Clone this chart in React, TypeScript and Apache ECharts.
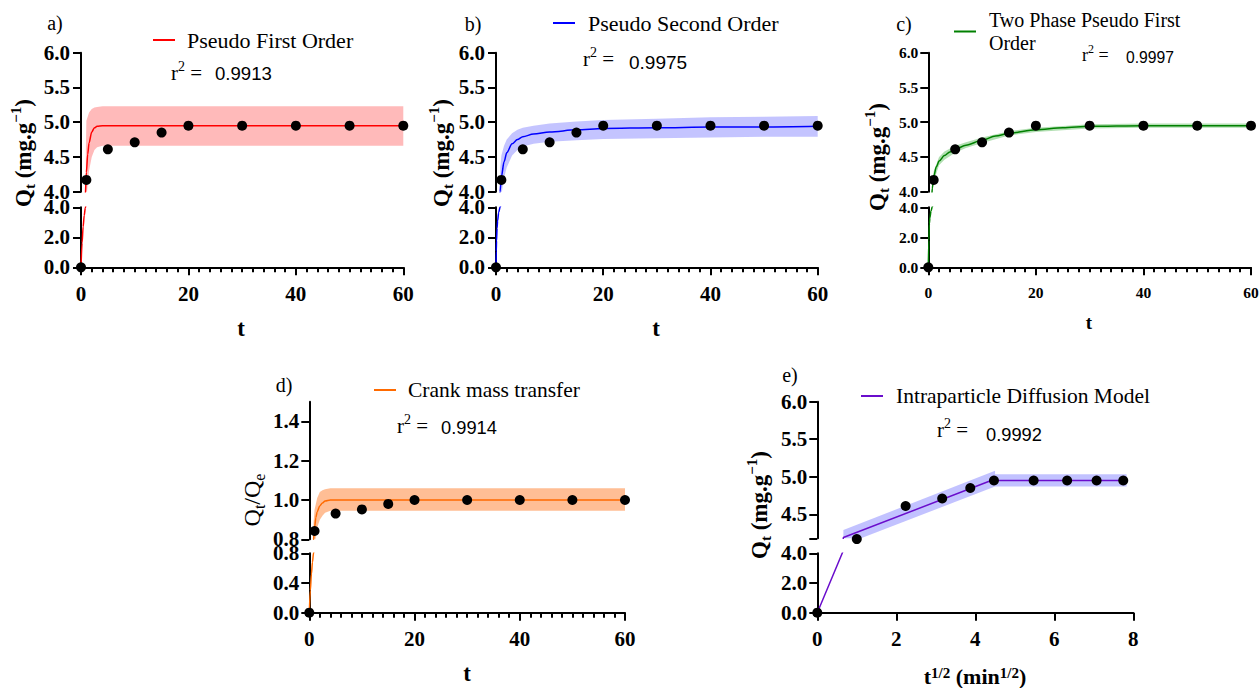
import React, { useEffect, useRef } from 'react';
import * as echarts from 'echarts';

const SERIF = "'Liberation Serif', 'Times New Roman', serif";
const SANS = "'Liberation Sans', Arial, sans-serif";

// ---------------- experimental data ----------------
const TIME_MIN = [0, 1, 5, 10, 15, 20, 30, 40, 50, 60];
const QT_EXP = [0, 4.17, 4.61, 4.71, 4.85, 4.95, 4.95, 4.95, 4.95, 4.95];
const QT_QE_EXP = [0, 0.842, 0.931, 0.952, 0.98, 1.0, 1.0, 1.0, 1.0, 1.0];
const SQRT_TIME = [0, 1, 2.236, 3.162, 3.873, 4.472, 5.477, 6.325, 7.071, 7.746];

// ---------------- a) pseudo first order ----------------
const PFO_T = [0, 0.2, 0.4, 0.6, 0.8, 1, 1.25, 1.5, 2, 2.5, 3, 4, 5, 10, 20, 30, 40, 50, 60];
const PFO_Q = [0, 1.63, 2.71, 3.46, 3.95, 4.28, 4.54, 4.7, 4.86, 4.92, 4.94, 4.95, 4.95, 4.95, 4.95, 4.95, 4.95, 4.95, 4.95];
const PFO_BAND_T = [0.9, 1, 1.5, 2, 2.5, 3, 4, 5, 60];
const PFO_UPPER = [4.6, 5.02, 5.14, 5.19, 5.21, 5.22, 5.23, 5.23, 5.23];
const PFO_LOWER = [3.6, 3.9, 4.3, 4.5, 4.6, 4.64, 4.66, 4.66, 4.66];

// ---------------- b) pseudo second order ----------------
const PSO_T = [0, 0.05, 0.1, 0.2, 0.3, 0.5, 0.75, 1, 1.5, 2, 3, 4, 5, 7, 10, 15, 20, 30, 40, 50, 60];
const PSO_Q = [0, 1.07, 1.76, 2.6, 3.1, 3.65, 4.0, 4.21, 4.43, 4.56, 4.69, 4.75, 4.79, 4.83, 4.86, 4.89, 4.91, 4.92, 4.93, 4.93, 4.94];
const PSO_BAND_T = [0.8, 1, 1.5, 2, 3, 4, 5, 7, 10, 15, 20, 30, 40, 50, 60];
const PSO_UPPER = [4.35, 4.52, 4.66, 4.75, 4.84, 4.89, 4.92, 4.95, 4.98, 5.01, 5.03, 5.05, 5.07, 5.08, 5.09];
const PSO_LOWER = [3.7, 3.95, 4.2, 4.35, 4.52, 4.6, 4.65, 4.69, 4.72, 4.74, 4.76, 4.77, 4.78, 4.79, 4.79];

// ---------------- c) two phase pseudo first order ----------------
const TPF_T = [0, 0.1, 0.2, 0.3, 0.5, 0.75, 1, 1.5, 2, 3, 4, 5, 7, 10, 12.5, 15, 20, 25, 30, 40, 50, 60];
const TPF_Q = [0, 1.8, 2.9, 3.3, 3.75, 4.05, 4.22, 4.36, 4.44, 4.52, 4.57, 4.61, 4.67, 4.74, 4.8, 4.84, 4.89, 4.92, 4.94, 4.95, 4.95, 4.95];
const TPF_BAND_T = [0.6, 1, 2, 3, 5, 7, 10, 15, 20, 30, 40, 60];
const TPF_UPPER = [4.02, 4.29, 4.5, 4.58, 4.66, 4.71, 4.78, 4.87, 4.92, 4.97, 4.98, 4.98];
const TPF_LOWER = [3.88, 4.15, 4.38, 4.46, 4.56, 4.63, 4.7, 4.81, 4.86, 4.91, 4.92, 4.92];

// ---------------- d) Crank mass transfer ----------------
const CRANK_T = [0, 0.2, 0.4, 0.6, 0.8, 1, 1.25, 1.5, 2, 2.5, 3, 4, 5, 60];
const CRANK_Q = [0, 0.3, 0.52, 0.68, 0.8, 0.86, 0.91, 0.94, 0.97, 0.985, 0.995, 1.0, 1.0, 1.0];
const CRANK_BAND_T = [0.8, 1, 1.5, 2, 2.5, 3, 4, 5, 60];
const CRANK_UPPER = [0.88, 0.95, 1.01, 1.04, 1.05, 1.055, 1.06, 1.06, 1.06];
const CRANK_LOWER = [0.72, 0.77, 0.86, 0.9, 0.92, 0.935, 0.945, 0.945, 0.945];

// ---------------- e) intraparticle diffusion ----------------
const IPD1_X = [0, 0.66, 4.5];
const IPD1_Q = [0, 4.19, 4.97];
const IPD2_X = [4.5, 7.75];
const IPD2_Q = [4.95, 4.95];
const IPD1_BAND_X = [0.66, 4.5];
const IPD1_UPPER = [4.29, 5.08];
const IPD1_LOWER = [4.09, 4.87];
const IPD2_BAND_X = [4.5, 7.83];
const IPD2_UPPER = [5.035, 5.035];
const IPD2_LOWER = [4.87, 4.87];

// ---------------- texts ----------------
const MODEL_NAMES = ['Pseudo First Order', 'Pseudo Second Order', 'Two Phase Pseudo First Order', 'Crank mass transfer', 'Intraparticle Diffusion Model'];
const R2_VALUES = ['0.9913', '0.9975', '0.9997', '0.9914', '0.9992'];
const PANEL_TAGS = ['a)', 'b)', 'c)', 'd)', 'e)'];
const TOP_TICKS_Q = [4, 4.5, 5, 5.5, 6];
const BOT_TICKS_Q = [0, 2, 4];
const TOP_TICKS_R = [0.8, 1.0, 1.2, 1.4];
const BOT_TICKS_R = [0, 0.4, 0.8];
const TOP_TICKS_E = [4.18, 4.5, 5, 5.5, 6];
const TOP_LABELS_E = [4.5, 5, 5.5, 6];

const AX = { color: '#000', width: 2 };

const PANELS: any[] = [
  {
    left: 81, right: 403.3, topY: [52.7, 191.7], botY: [207.3, 267.3],
    xMax: 60, xInterval: 20, minor: true,
    topMin: 4, topMax: 6, topTicks: TOP_TICKS_Q, topLabels: TOP_TICKS_Q, botMax: 4, botTicks: BOT_TICKS_Q,
    font: 21, xMargin: 16, yMargin: 11, yLH: 14,
    color: '#ff0000', band: 'rgba(255,0,0,0.27)',
    curves: [{ x: PFO_T, y: PFO_Q }], bands: [{ x: PFO_BAND_T, lo: PFO_LOWER, hi: PFO_UPPER }],
    px: TIME_MIN, py: QT_EXP,
    leg: { left: 153, top: 28, size: 22, pad: 7, lh: 24 },
  },
  {
    left: 496, right: 817.7, topY: [52.7, 191.7], botY: [207.3, 267.3],
    xMax: 60, xInterval: 20, minor: true,
    topMin: 4, topMax: 6, topTicks: TOP_TICKS_Q, topLabels: TOP_TICKS_Q, botMax: 4, botTicks: BOT_TICKS_Q,
    font: 21, xMargin: 16, yMargin: 11, yLH: 14,
    color: '#0000ff', band: 'rgba(60,60,255,0.3)',
    curves: [{ x: PSO_T, y: PSO_Q }], bands: [{ x: PSO_BAND_T, lo: PSO_LOWER, hi: PSO_UPPER }],
    px: TIME_MIN, py: QT_EXP,
    leg: { left: 553, top: 11, size: 22, pad: 8, lh: 24 },
  },
  {
    left: 928.3, right: 1251, topY: [52.7, 191.7], botY: [207.3, 267.3],
    xMax: 60, xInterval: 20, minor: true,
    topMin: 4, topMax: 6, topTicks: TOP_TICKS_Q, topLabels: TOP_TICKS_Q, botMax: 4, botTicks: BOT_TICKS_Q,
    font: 15.5, xMargin: 17, yMargin: 10, yLH: 12,
    color: '#008000', band: 'rgba(0,150,0,0.3)',
    curves: [{ x: TPF_T, y: TPF_Q }], bands: [{ x: TPF_BAND_T, lo: TPF_LOWER, hi: TPF_UPPER }],
    px: TIME_MIN, py: QT_EXP,
    leg: { left: 954, top: 8.5, size: 20, pad: 8, lh: 23 },
  },
  {
    left: 309.3, right: 625, topY: [401.7, 539.3], botY: [553.3, 612.7],
    xMax: 60, xInterval: 20, minor: true,
    topMin: 0.8, topMax: 1.5, topTicks: TOP_TICKS_R, topLabels: TOP_TICKS_R, botMax: 0.8, botTicks: BOT_TICKS_R,
    font: 21, xMargin: 16, yMargin: 10, yLH: 13,
    color: '#ff6a00', band: 'rgba(255,110,20,0.45)',
    curves: [{ x: CRANK_T, y: CRANK_Q }], bands: [{ x: CRANK_BAND_T, lo: CRANK_LOWER, hi: CRANK_UPPER }],
    px: TIME_MIN, py: QT_QE_EXP,
    leg: { left: 374, top: 378, size: 21.5, pad: 7, lh: 24 },
  },
  {
    left: 817.3, right: 1133.3, topY: [401.7, 538.3], botY: [553.3, 612.7],
    xMax: 8, xInterval: 2, minor: false,
    topMin: 4.18, topMax: 6, topTicks: TOP_TICKS_E, topLabels: TOP_LABELS_E, botMax: 4, botTicks: BOT_TICKS_Q,
    font: 21, xMargin: 16, yMargin: 10, yLH: 14,
    color: '#6a0dcc', band: 'rgba(80,80,255,0.35)',
    curves: [{ x: IPD1_X, y: IPD1_Q }, { x: IPD2_X, y: IPD2_Q }],
    bands: [{ x: IPD1_BAND_X, lo: IPD1_LOWER, hi: IPD1_UPPER }, { x: IPD2_BAND_X, lo: IPD2_LOWER, hi: IPD2_UPPER }],
    px: SQRT_TIME, py: QT_EXP,
    leg: { left: 861, top: 384, size: 21.5, pad: 8, lh: 24 },
  },
];

const fmt1 = (v: number) => v.toFixed(1);

function titleRich(size: number, weight: string, lh: number) {
  const s = Math.round(size * 0.66);
  return {
    m: { fontFamily: SERIF, fontSize: size, fontWeight: weight, fill: '#000', lineHeight: lh },
    sub: { fontFamily: SERIF, fontSize: s, fontWeight: weight, fill: '#000', lineHeight: s + 1, verticalAlign: 'bottom' },
    sup: { fontFamily: SERIF, fontSize: s, fontWeight: weight, fill: '#000', lineHeight: s + 1, verticalAlign: 'top' },
  };
}

function richText(x: number, y: number, text: string, size: number, weight: string, align: string, rotate = 0, lh = size + 6) {
  return {
    type: 'text', x, y, rotation: rotate, silent: true,
    style: {
      text, rich: titleRich(size, weight, lh), align, verticalAlign: 'middle', textAlign: align, textVerticalAlign: 'middle',
      fontFamily: SERIF, fontSize: size, fontWeight: weight, fill: '#000',
    },
  };
}

function plainText(x: number, y: number, text: string, size: number, family: string, weight = 'normal', align = 'left') {
  return {
    type: 'text', x, y, silent: true,
    style: { text, fontFamily: family, fontSize: size, fontWeight: weight, fill: '#000', align, verticalAlign: 'middle', textAlign: align, textVerticalAlign: 'middle' },
  };
}

function bandSeries(xi: number, yi: number, b: any, color: string) {
  return {
    type: 'custom', xAxisIndex: xi, yAxisIndex: yi, clip: true, silent: true, z: 1,
    data: b.x.map((v: number, i: number) => [v, b.lo[i], b.hi[i]]),
    encode: { x: 0, y: [1, 2] },
    renderItem: (params: any, api: any) => {
      if (params.dataIndex !== 0) return null;
      const pts: number[][] = [];
      for (let i = 0; i < b.x.length; i++) pts.push(api.coord([b.x[i], b.hi[i]]));
      for (let i = b.x.length - 1; i >= 0; i--) pts.push(api.coord([b.x[i], b.lo[i]]));
      return { type: 'polygon', shape: { points: pts }, style: { fill: color } };
    },
  };
}

function buildOption() {
  const grid: any[] = [], xAxis: any[] = [], yAxis: any[] = [], series: any[] = [], legend: any[] = [];
  PANELS.forEach((p, i) => {
    const gt = 2 * i, gb = 2 * i + 1;
    const width = p.right - p.left;
    grid.push({ left: p.left, top: p.topY[0], width, height: p.topY[1] - p.topY[0], containLabel: false, outerBoundsMode: 'none' });
    grid.push({ left: p.left, top: p.botY[0], width, height: p.botY[1] - p.botY[0], containLabel: false, outerBoundsMode: 'none' });
    const lab = { fontFamily: SERIF, fontWeight: 'bold', fontSize: p.font, color: '#000' };
    xAxis.push({ gridIndex: gt, type: 'value', min: 0, max: p.xMax, show: false });
    xAxis.push({
      gridIndex: gb, type: 'value', min: 0, max: p.xMax, interval: p.xInterval,
      axisLine: { show: true, onZero: false, lineStyle: AX },
      axisTick: { show: true, length: 8, lineStyle: AX },
      minorTick: { show: p.minor, splitNumber: 10, length: 5, lineStyle: AX },
      axisLabel: { ...lab, margin: p.xMargin },
      splitLine: { show: false }, minorSplitLine: { show: false },
    });
    yAxis.push({
      gridIndex: gt, type: 'value', min: p.topMin, max: p.topMax,
      axisLine: { show: true, onZero: false, lineStyle: AX },
      axisTick: { show: true, length: 8, lineStyle: AX, customValues: p.topTicks },
      axisLabel: { ...lab, lineHeight: p.yLH, margin: p.yMargin, customValues: p.topLabels, formatter: fmt1 },
      splitLine: { show: false },
    });
    yAxis.push({
      gridIndex: gb, type: 'value', min: 0, max: p.botMax,
      axisLine: { show: true, onZero: false, lineStyle: AX },
      axisTick: { show: true, length: 8, lineStyle: AX, customValues: p.botTicks },
      axisLabel: { ...lab, lineHeight: p.yLH, margin: p.yMargin, customValues: p.botTicks, formatter: fmt1 },
      splitLine: { show: false },
    });
    p.bands.forEach((b: any) => series.push(bandSeries(gt, gt, b, p.band)));
    [gt, gb].forEach((g) => {
      p.curves.forEach((c: any, ci: number) => {
        series.push({
          type: 'line', xAxisIndex: g, yAxisIndex: g, z: 3,
          name: g === gt && ci === 0 ? MODEL_NAMES[i] : undefined,
          color: p.color,
          data: c.x.map((v: number, k: number) => [v, c.y[k]]),
          showSymbol: false, symbol: 'none', clip: true,
          smooth: c.x.length > 3 ? 0.3 : false, smoothMonotone: 'x',
          lineStyle: { color: p.color, width: 1.5 }, itemStyle: { color: p.color },
        });
      });
    });
    const topPts: number[][] = [], botPts: number[][] = [];
    p.px.forEach((v: number, k: number) => {
      const q = p.py[k];
      if (q >= p.topMin - 0.02) topPts.push([v, q]);
      else if (q <= p.botMax) botPts.push([v, q]);
    });
    const dot = { color: '#000', opacity: 1 };
    series.push({ type: 'scatter', xAxisIndex: gt, yAxisIndex: gt, data: topPts, symbolSize: 10, clip: false, z: 5, itemStyle: dot });
    series.push({ type: 'scatter', xAxisIndex: gb, yAxisIndex: gb, data: botPts, symbolSize: 10, clip: false, z: 5, itemStyle: dot });
    legend.push({
      data: [MODEL_NAMES[i]], left: p.leg.left, top: p.leg.top, padding: 0, orient: 'horizontal',
      itemWidth: 22, itemHeight: 2, icon: 'rect', selectedMode: false,
      formatter: (n: string) => (n === 'Two Phase Pseudo First Order' ? 'Two Phase Pseudo First\nOrder' : n),
      textStyle: { fontFamily: SERIF, fontSize: p.leg.size, color: '#000', lineHeight: p.leg.lh, padding: [0, 0, 0, p.leg.pad] },
    });
  });

  const QT_TITLE = '{m|Q}{sub|t}{m| (mg.g}{sup|\u22121}{m|)}';
  const graphic: any[] = [
    plainText(55, 23, PANEL_TAGS[0], 20, SERIF, 'normal', 'center'),
    plainText(473, 24, PANEL_TAGS[1], 20, SERIF, 'normal', 'center'),
    plainText(904, 24, PANEL_TAGS[2], 20, SERIF, 'normal', 'center'),
    plainText(284, 385, PANEL_TAGS[3], 20, SERIF, 'normal', 'center'),
    plainText(790, 375, PANEL_TAGS[4], 20, SERIF, 'normal', 'center'),
    // r^2
    richText(171, 72.5, '{m|r}{sup|2}{m| =}', 21, 'normal', 'left'),
    plainText(215, 73, R2_VALUES[0], 18.6, SANS),
    richText(583, 58.5, '{m|r}{sup|2}{m| =}', 21, 'normal', 'left'),
    plainText(629, 62.5, R2_VALUES[1], 19, SANS),
    richText(1082, 55, '{m|r}{sup|2}{m| =}', 18, 'normal', 'left'),
    plainText(1126, 57.5, R2_VALUES[2], 15.7, SANS),
    richText(397, 425.5, '{m|r}{sup|2}{m| =}', 21, 'normal', 'left'),
    plainText(441, 427.5, R2_VALUES[3], 18.3, SANS),
    richText(937, 430, '{m|r}{sup|2}{m| =}', 21, 'normal', 'left'),
    plainText(986, 434, R2_VALUES[4], 18.3, SANS),
    // y titles
    richText(23, 153, QT_TITLE, 23, 'bold', 'center', Math.PI / 2),
    richText(441, 153, QT_TITLE, 23, 'bold', 'center', Math.PI / 2),
    richText(877, 157, QT_TITLE, 23, 'bold', 'center', Math.PI / 2),
    richText(252, 500, '{m|Q}{sub|t}{m|/Q}{sub|e}', 24, 'normal', 'center', Math.PI / 2),
    richText(759, 505, QT_TITLE, 23, 'bold', 'center', Math.PI / 2),
    // x titles
    plainText(241, 328, 't', 23, SERIF, 'bold', 'center'),
    plainText(656, 328, 't', 23, SERIF, 'bold', 'center'),
    plainText(1089, 322, 't', 19, SERIF, 'bold', 'center'),
    plainText(467, 673, 't', 23, SERIF, 'bold', 'center'),
    richText(975, 676, '{m|t}{sup|1/2}{m| (min}{sup|1/2}{m|)}', 22, 'bold', 'center', 0, 22),
  ];

  return { animation: false, backgroundColor: '#fff', grid, xAxis, yAxis, series, legend, graphic };
}

export default function App() {
  const ref = useRef<HTMLDivElement>(null);
  useEffect(() => {
    if (!ref.current) return;
    const chart = echarts.init(ref.current, undefined, { renderer: 'svg' });
    chart.setOption(buildOption() as any);
    return () => chart.dispose();
  }, []);
  return <div ref={ref} style={{ position: 'absolute', left: 0, top: 0, width: 1259, height: 688 }} />;
}
